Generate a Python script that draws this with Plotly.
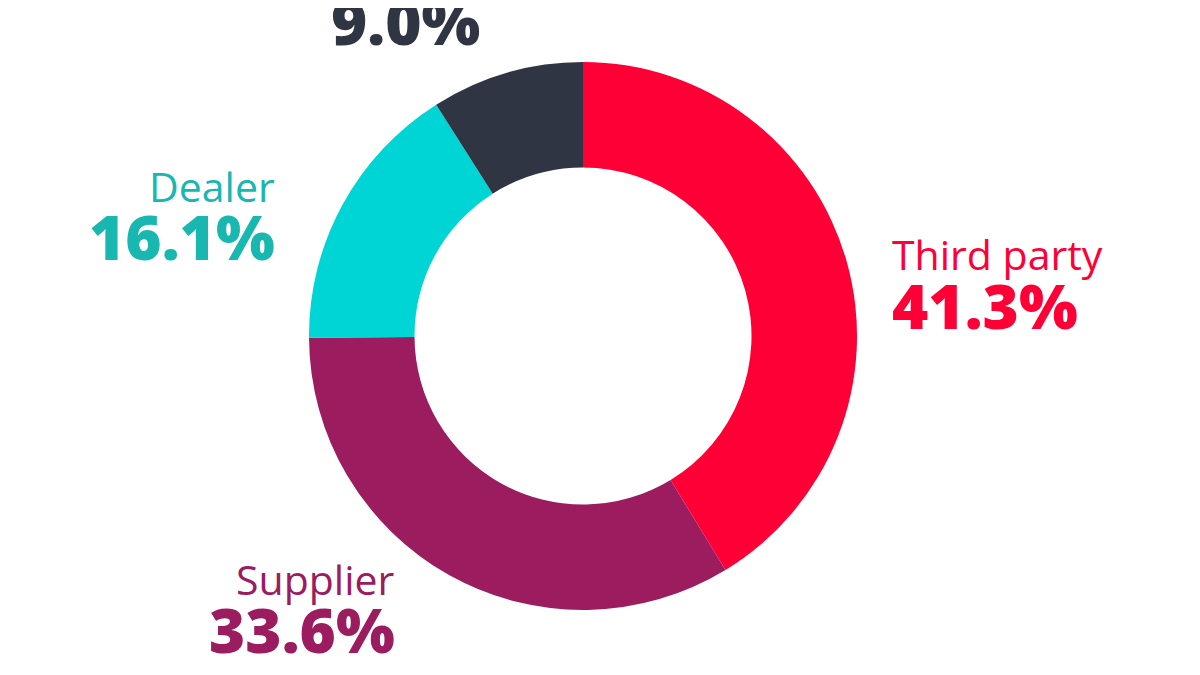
import plotly.graph_objects as go

categories = ["Third party", "Supplier", "Dealer", "Other"]
shares = [41.3, 33.6, 16.1, 9.0]
slice_colors = ["#FF0036", "#9B1C5F", "#00D5D5", "#303544"]
label_colors = ["#FF0036", "#9B1C5F", "#18B7B0", "#303544"]
pct_labels = [f"{v:.1f}%" for v in shares]

W, H = 1200, 675
CX, CY, R = 575, 328, 274

fig = go.Figure(go.Pie(
    labels=categories,
    values=shares,
    sort=False,
    direction="clockwise",
    rotation=0,
    hole=0.615,
    marker=dict(colors=slice_colors, line=dict(width=0)),
    textinfo="none",
    hoverinfo="skip",
    showlegend=False,
    domain=dict(x=[(CX - R) / W, (CX + R) / W],
                y=[(H - CY - R) / H, (H - CY + R) / H]),
))

# label placements (pixel positions of name / percentage lines)
placements = {
    "Third party": dict(x=882, xanchor="left", name_y=246, pct_y=297),
    "Supplier": dict(x=389, xanchor="right", name_y=571, pct_y=621),
    "Dealer": dict(x=269, xanchor="right", name_y=178, pct_y=228),
    "Other": dict(x=397, xanchor="center", name_y=None, pct_y=13),
}

for cat, pct, col in zip(categories, pct_labels, label_colors):
    p = placements[cat]
    if p["name_y"] is not None:
        fig.add_annotation(
            x=p["x"] / W, y=1 - p["name_y"] / H, xref="paper", yref="paper",
            xanchor=p["xanchor"], yanchor="middle", showarrow=False,
            text=cat, font=dict(family="Open Sans", size=41, color=col),
        )
    fig.add_annotation(
        x=p["x"] / W, y=1 - p["pct_y"] / H, xref="paper", yref="paper",
        xanchor=p["xanchor"], yanchor="middle", showarrow=False,
        text=pct, font=dict(family="Open Sans", size=62, color=col, weight=800),
    )

fig.update_layout(
    width=W, height=H,
    margin=dict(l=0, r=0, t=0, b=0),
    paper_bgcolor="white", plot_bgcolor="white",
)

fig.write_html("out.html")
